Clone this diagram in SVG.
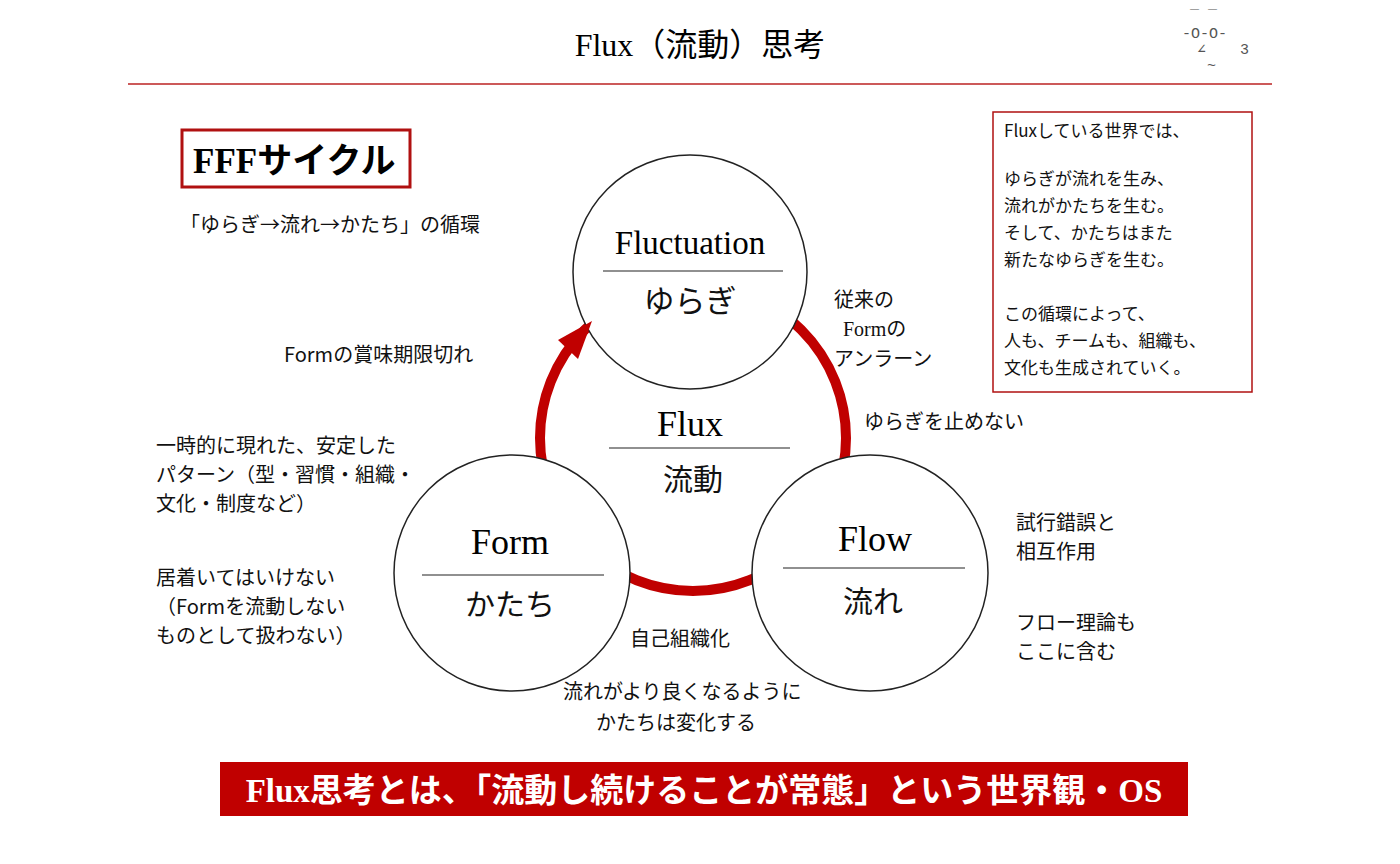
<svg xmlns="http://www.w3.org/2000/svg" width="1400" height="864" viewBox="0 0 1400 864">
<style>
.s{font-family:"Liberation Serif","Noto Sans CJK JP",serif;fill:#000}
.g{font-family:"Noto Sans CJK JP","Noto Sans",sans-serif;fill:#111}
.n{fill:#fff;stroke:#222;stroke-width:1.5}
.l{stroke:#222;stroke-width:1.2}
</style>
<rect width="1400" height="864" fill="#fff"/>
<text class="s" x="700" y="56" font-size="32" text-anchor="middle">Flux（流動）思考</text>
<g font-family="Liberation Mono,monospace" font-size="15" fill="#555">
<text x="1190" y="20">‾ ‾</text><text x="1182" y="38">-O-O-</text><text x="1197" y="54">∠</text><text x="1240" y="54">3</text><text x="1207" y="70">~</text>
</g>
<line x1="128" y1="84" x2="1272" y2="84" stroke="#b22" stroke-width="1.5"/>
<rect x="182" y="130" width="228" height="57" fill="#fff" stroke="#b01010" stroke-width="3"/>
<text x="193" y="173" font-size="35" font-family="Liberation Serif,Noto Sans CJK JP,serif" font-weight="bold">FFF<tspan font-family="Noto Sans CJK JP,sans-serif">サイクル</tspan></text>
<text class="g" x="180" y="232" font-size="20">「ゆらぎ→流れ→かたち」の循環</text>
<rect x="993" y="112" width="259" height="280" fill="#fff" stroke="#b01010" stroke-width="1.5"/>
<g class="g" font-size="17">
<text x="1004" y="137">Fluxしている世界では、</text>
<text x="1004" y="185">ゆらぎが流れを生み、</text>
<text x="1004" y="212">流れがかたちを生む。</text>
<text x="1004" y="239">そして、かたちはまた</text>
<text x="1004" y="266">新たなゆらぎを生む。</text>
<text x="1004" y="320">この循環によって、</text>
<text x="1004" y="347">人も、チームも、組織も、</text>
<text x="1004" y="374">文化も生成されていく。</text>
</g>
<g id="connectors">
<circle cx="693" cy="438" r="153" fill="none" stroke="#c00000" stroke-width="10"/>
</g>
<g id="fluctuation"><circle class="n" cx="690" cy="272" r="117"/>
<text class="s" x="690" y="254" font-size="33" text-anchor="middle">Fluctuation</text>
<line class="l" x1="603" y1="271" x2="783" y2="271"/>
<text class="g" x="690" y="312" font-size="31" text-anchor="middle">ゆらぎ</text></g>
<g id="form"><circle class="n" cx="512" cy="573" r="118"/>
<text class="s" x="510" y="554" font-size="36" text-anchor="middle">Form</text>
<line class="l" x1="422" y1="575" x2="604" y2="575"/>
<text class="g" x="510" y="615" font-size="30" text-anchor="middle">かたち</text></g>
<g id="flow"><circle class="n" cx="870" cy="573" r="118"/>
<text class="s" x="875" y="551" font-size="36" text-anchor="middle">Flow</text>
<line class="l" x1="783" y1="568" x2="965" y2="568"/>
<text class="g" x="873" y="612" font-size="30" text-anchor="middle">流れ</text></g>
<polygon id="arrowhead" points="592,321 558,340 578,359" fill="#c00000"/>
<g id="flux">
<text class="s" x="690" y="436" font-size="36" text-anchor="middle">Flux</text>
<line class="l" x1="609" y1="448" x2="790" y2="448"/>
<text class="g" x="693" y="490" font-size="30" text-anchor="middle">流動</text></g>
<g class="g" font-size="20">
<text x="834" y="307">従来の</text>
<text x="843" y="336" font-family="Liberation Serif,Noto Sans CJK JP,serif">Formの</text>
<text x="834" y="366">アンラーン</text>
<text x="864" y="429">ゆらぎを止めない</text>
<text x="284" y="362">Formの賞味期限切れ</text>
<text x="156" y="453">一時的に現れた、安定した</text>
<text x="156" y="482">パターン（型・習慣・組織・</text>
<text x="156" y="511">文化・制度など）</text>
<text x="156" y="585">居着いてはいけない</text>
<text x="156" y="614">（Formを流動しない</text>
<text x="156" y="643">ものとして扱わない）</text>
<text x="630" y="646">自己組織化</text>
<text x="563" y="699">流れがより良くなるように</text>
<text x="596" y="730">かたちは変化する</text>
<text x="1016" y="530">試行錯誤と</text>
<text x="1016" y="559">相互作用</text>
<text x="1016" y="630">フロー理論も</text>
<text x="1016" y="659">ここに含む</text>
</g>
<rect x="220" y="762" width="968" height="54" fill="#c00000"/>
<text x="704" y="802" font-size="33" fill="#fff" text-anchor="middle" font-family="Liberation Serif,Noto Sans CJK JP,serif" font-weight="bold">Flux<tspan font-family="Noto Sans CJK JP,sans-serif">思考とは、「流動し続けることが常態」という世界観・</tspan>OS</text>
</svg>
